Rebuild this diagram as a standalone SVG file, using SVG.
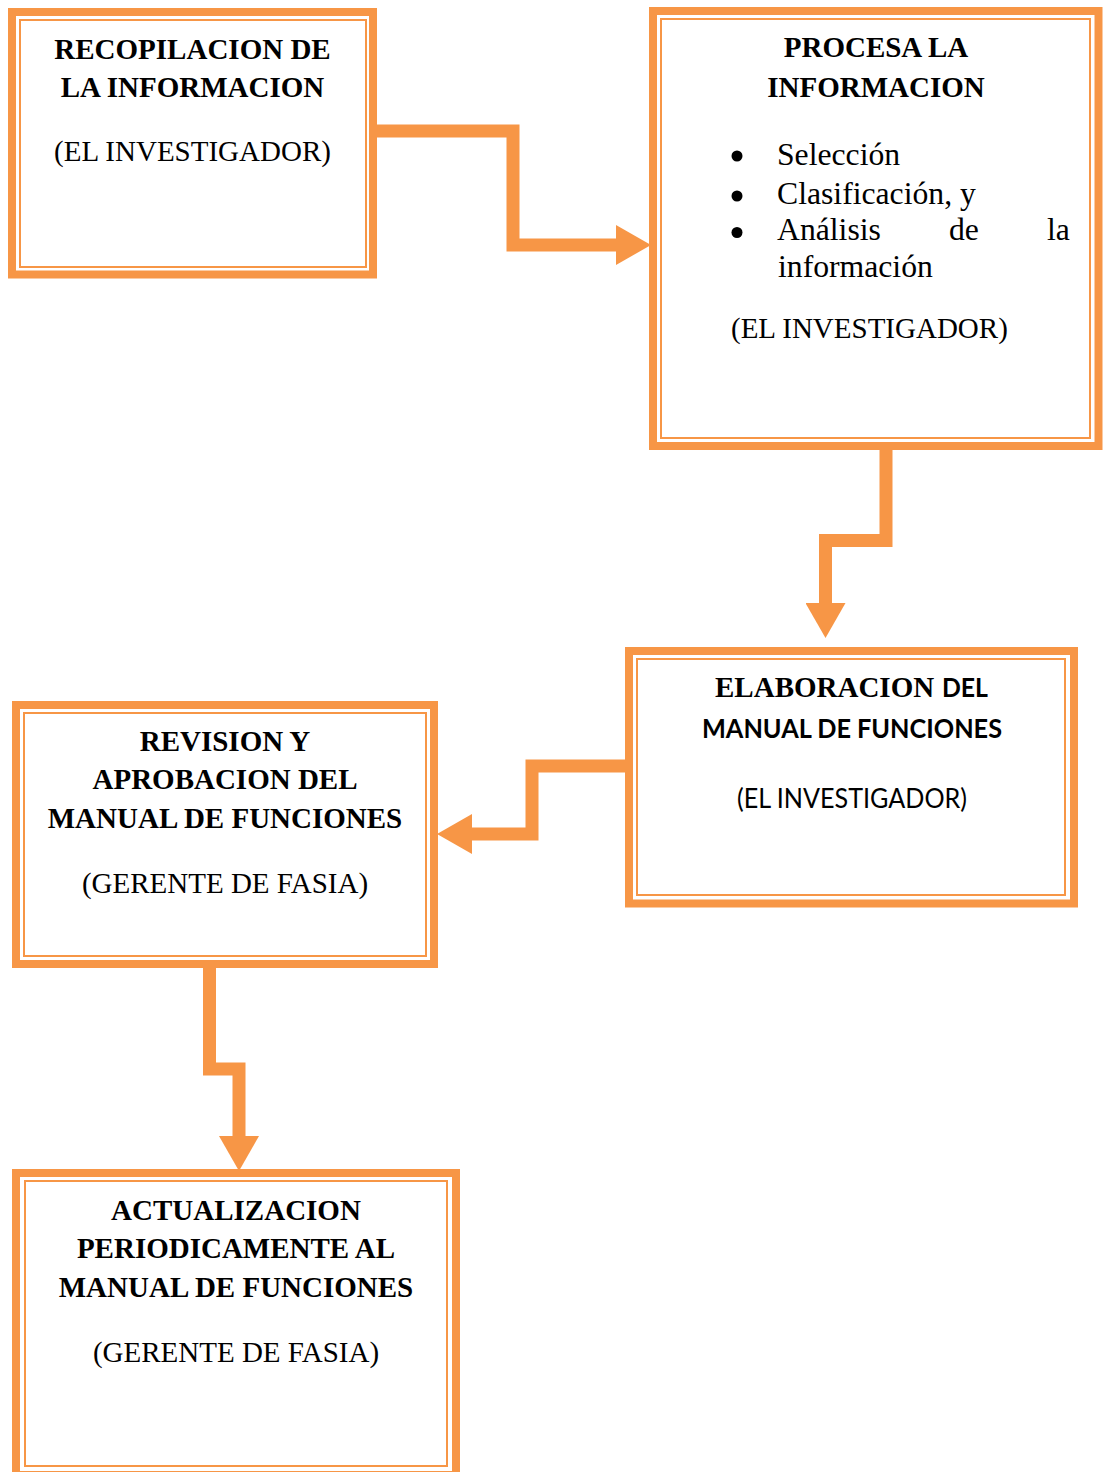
<svg xmlns="http://www.w3.org/2000/svg" width="1103" height="1472" viewBox="0 0 1103 1472">
<style>
.outer{fill:none;stroke:#F79646;stroke-width:8}
.inner{fill:none;stroke:#F79646;stroke-width:2}
.conn{fill:none;stroke:#F79646;stroke-width:13;stroke-linejoin:miter}
.tb{font-family:"Liberation Serif","Times New Roman",serif;font-weight:bold;font-size:29px;fill:#000}
.tr{font-family:"Liberation Serif","Times New Roman",serif;font-size:29px;fill:#000}
.tl{font-family:"Liberation Serif","Times New Roman",serif;font-size:31.7px;fill:#000}
.cb{font-family:Lato,"Open Sans",sans-serif;font-weight:bold;font-size:26px;fill:#000}
.cr{font-family:Lato,"Open Sans",sans-serif;font-size:26px;fill:#000}
.c{text-anchor:middle}
</style>
<defs>
<marker id="ah" markerUnits="userSpaceOnUse" markerWidth="36" markerHeight="40" viewBox="0 0 36 40" refX="0" refY="20" orient="auto">
<path d="M0,0 L35,20 L0,40 Z" fill="#F79646"/>
</marker>
</defs>
<rect width="1103" height="1472" fill="#fff"/>
<g id="connectors">
<path class="conn" d="M373,131 H513 V245 H616" marker-end="url(#ah)"/>
<path class="conn" d="M886,446 V540.5 H825.5 V603" marker-end="url(#ah)"/>
<path class="conn" d="M629,766 H532 V834 H472" marker-end="url(#ah)"/>
<path class="conn" d="M209.5,964 V1069 H239 V1136" marker-end="url(#ah)"/>
</g>
<g id="node1">
<rect class="outer" x="12" y="12" width="361" height="262.5"/>
<rect class="inner" x="20" y="20" width="346" height="247"/>
<text class="tb c" x="192.5" y="59">RECOPILACION DE</text>
<text class="tb c" x="192.5" y="97">LA INFORMACION</text>
<text class="tr c" x="192.5" y="161">(EL INVESTIGADOR)</text>
</g>
<g id="node2">
<rect class="outer" x="653" y="11" width="445.5" height="435"/>
<rect class="inner" x="661" y="19" width="429" height="419"/>
<text class="tb c" x="876" y="57">PROCESA LA</text>
<text class="tb c" x="876" y="97">INFORMACION</text>
<circle cx="737" cy="156" r="5.5" fill="#000"/>
<circle cx="737" cy="196" r="5.5" fill="#000"/>
<circle cx="737" cy="232.5" r="5.5" fill="#000"/>
<text class="tl" x="777" y="165">Selección</text>
<text class="tl" x="777" y="204">Clasificación, y</text>
<text class="tl" x="777" y="240">Análisis</text>
<text class="tl" x="949" y="240">de</text>
<text class="tl" x="1047" y="240">la</text>
<text class="tl" x="778" y="277">información</text>
<text class="tr" x="731" y="338">(EL INVESTIGADOR)</text>
</g>
<g id="node3">
<rect class="outer" x="629" y="651" width="445" height="252.5"/>
<rect class="inner" x="637" y="659" width="428" height="236"/>
<text class="tb" x="715" y="697">ELABORACION</text>
<text class="cb" x="942" y="697" textLength="46" lengthAdjust="spacingAndGlyphs">DEL</text>
<text class="cb" x="702" y="738" textLength="300" lengthAdjust="spacingAndGlyphs">MANUAL DE FUNCIONES</text>
<text class="cr" x="737" y="808" textLength="230" lengthAdjust="spacingAndGlyphs">(EL INVESTIGADOR)</text>
</g>
<g id="node4">
<rect class="outer" x="16" y="705" width="418" height="259"/>
<rect class="inner" x="24" y="713" width="402" height="243"/>
<text class="tb c" x="225" y="751">REVISION Y</text>
<text class="tb c" x="225" y="789">APROBACION DEL</text>
<text class="tb c" x="225" y="828">MANUAL DE FUNCIONES</text>
<text class="tr c" x="225" y="893">(GERENTE DE FASIA)</text>
</g>
<g id="node5">
<rect class="outer" x="16" y="1173" width="440" height="302"/>
<rect class="inner" x="25" y="1181" width="422" height="285"/>
<text class="tb c" x="236" y="1220">ACTUALIZACION</text>
<text class="tb c" x="236" y="1258">PERIODICAMENTE AL</text>
<text class="tb c" x="236" y="1297">MANUAL DE FUNCIONES</text>
<text class="tr c" x="236" y="1362">(GERENTE DE FASIA)</text>
</g>
</svg>
